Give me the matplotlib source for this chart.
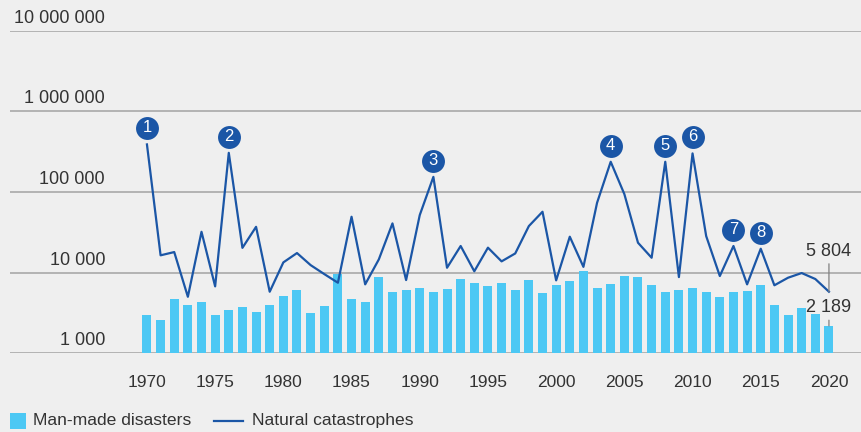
import matplotlib
matplotlib.use("Agg")
import matplotlib.pyplot as plt
import matplotlib.transforms as mtransforms
from matplotlib.patches import Rectangle
from matplotlib.lines import Line2D
import numpy as np

plt.rcParams['font.family'] = ['Liberation Sans', 'DejaVu Sans']

years = list(range(1970, 2021))
man_made = [2985, 2590, 4710, 3960, 4330, 2985, 3440, 3750, 3250, 3960,
            5130, 6100, 3160, 3860, 9600, 4710, 4330, 8810, 5750, 6100,
            6440, 5750, 6260, 8330, 7430, 6820, 7430, 6100, 8090, 5590,
            7020, 7870, 10500, 6440, 7230, 9080, 8810, 7020, 5750, 6100,
            6440, 5750, 4990, 5750, 5920, 7020, 3960, 2985, 3640, 3070,
            2189]
natural = [389000, 16400, 18000, 5020, 32100, 6760, 306000, 20300, 37000, 5800,
           13400, 17500, 12400, 9600, 7500, 49300, 7160, 14600, 40800, 8090,
           51700, 154000, 11500, 21400, 10400, 20400, 13800, 17300, 37800, 56900,
           8020, 27900, 11800, 73500, 237000, 94200, 23500, 15300, 237000, 8810,
           301000, 28400, 9080, 21400, 7160, 19800, 6970, 8650, 9890, 8340,
           5804]
event_years = [1970, 1976, 1991, 2004, 2008, 2010, 2013, 2015]
event_labels = ['1', '2', '3', '4', '5', '6', '7', '8']
ytick_values = [1000, 10000, 100000, 1000000, 10000000]
ytick_labels = ['1 000', '10 000', '100 000', '1 000 000', '10 000 000']
xtick_values = [1970, 1975, 1980, 1985, 1990, 1995, 2000, 2005, 2010, 2015, 2020]
last_natural_label = '5 804'
last_manmade_label = '2 189'
legend_labels = ['Man-made disasters', 'Natural catastrophes']

bg = '#efefef'
bar_col = '#4cc8f4'
line_col = '#1b56a6'
grid_col = '#a3a3a3'
text_col = '#333333'

W, H = 861, 432
fig = plt.figure(figsize=(W/100, H/100), dpi=100, facecolor=bg)
ax = fig.add_axes([10/W, 1 - 353.3/H, 851/W, (353.3 - 30.7)/H])
ax.set_facecolor(bg)
ax.set_yscale('log')
ax.set_ylim(1000, 1e7)
ax.set_xlim(1959.96, 2022.35)

for v in ytick_values:
    ax.axhline(v, color=grid_col, lw=1.1, zorder=0)

ax.bar(years, man_made, width=0.66, color=bar_col, zorder=2)
ax.plot(years, natural, color=line_col, lw=1.6, zorder=3)

# numbered markers
off = mtransforms.ScaledTranslation(0, 16/100, fig.dpi_scale_trans)
for yr, lab in zip(event_years, event_labels):
    val = natural[years.index(yr)]
    ax.plot([yr], [val], marker='o', ms=16.5, color=line_col, mec='none',
            transform=ax.transData + off, zorder=5, clip_on=False)
    ax.text(yr, val, lab, color='white', fontsize=12, ha='center', va='center',
            transform=ax.transData + off + mtransforms.ScaledTranslation(0, 0.5/100, fig.dpi_scale_trans),
            zorder=6)

# y labels above gridlines
for v, lab in zip(ytick_values, ytick_labels):
    ax.annotate(lab, xy=(95/851, v), xycoords=ax.get_yaxis_transform(),
                xytext=(0, 5.8), textcoords='offset points', ha='right', va='baseline',
                fontsize=13, color=text_col)

ax.set_yticks([])
ax.yaxis.set_minor_locator(matplotlib.ticker.NullLocator())
ax.set_xticks(xtick_values)
ax.set_xticklabels([str(x) for x in xtick_values], fontsize=12.5, color=text_col)
ax.tick_params(axis='x', length=0, pad=15.5)
for s in ax.spines.values():
    s.set_visible(False)

# end labels with leader lines
ax.annotate(last_natural_label, xy=(2020, natural[-1]), xytext=(2020, 14500),
            ha='center', va='bottom', fontsize=13, color=text_col,
            arrowprops=dict(arrowstyle='-', color='#808080', lw=0.9, shrinkA=1, shrinkB=0))
ax.annotate(last_manmade_label, xy=(2020, man_made[-1]), xytext=(2020, 2900),
            ha='center', va='bottom', fontsize=13, color=text_col,
            arrowprops=dict(arrowstyle='-', color='#808080', lw=0.9, shrinkA=1, shrinkB=0))

# manual legend (figure pixel coords)
def fx(px):
    return px / W
def fy(py):
    return 1 - py / H

fig.patches.append(Rectangle((fx(10), fy(428.7)), 16/W, 16/H, transform=fig.transFigure,
                             facecolor=bar_col, edgecolor='none'))
fig.text(fx(33), fy(420.5), legend_labels[0], fontsize=12.6, color=text_col, va='center', ha='left')
fig.lines.append(Line2D([fx(214), fx(243)], [fy(420.5), fy(420.5)], transform=fig.transFigure,
                        color=line_col, lw=1.6))
fig.text(fx(252), fy(420.5), legend_labels[1], fontsize=12.6, color=text_col, va='center', ha='left')

fig.savefig('out.png', dpi=100, facecolor=bg)
